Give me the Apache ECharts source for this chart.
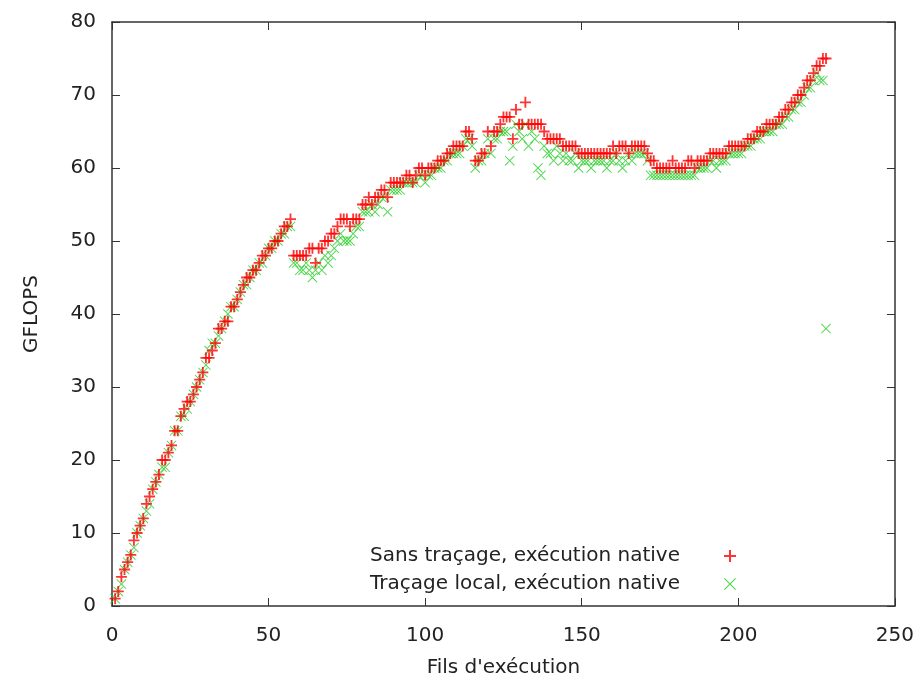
<!DOCTYPE html>
<html>
<head>
<meta charset="utf-8">
<script src="https://cdn.jsdelivr.net/npm/echarts@6/dist/echarts.min.js"></script>
<style>
  html, body { margin: 0; padding: 0; background: #fff; }
  #chart { width: 917px; height: 686px; }
</style>
</head>
<body>
<div id="chart"></div>
<script>
// GFLOPS for 1..228 threads (one value per thread count)
const sansTracage = [
  1, 2, 4, 5, 6, 7, 9, 10, 11, 12, 14, 15, 16, 17, 18, 20, 20, 21, 22, 24,
  24, 26, 27, 28, 28, 29, 30, 31, 32, 34, 34, 35, 36, 38, 38, 39, 39, 41, 41, 42,
  43, 44, 45, 45, 46, 46, 47, 48, 48, 49, 49, 50, 50, 51, 52, 52, 53, 48, 48, 48,
  48, 48, 49, 49, 47, 49, 49, 50, 50, 51, 51, 52, 53, 53, 53, 52, 53, 53, 53, 55,
  55, 56, 55, 56, 56, 57, 57, 56, 58, 58, 58, 58, 58, 59, 59, 58, 59, 60, 60, 59,
  60, 60, 60, 61, 61, 61, 62, 62, 63, 63, 63, 63, 65, 65, 64, 61, 61, 62, 62, 65,
  63, 65, 65, 66, 67, 67, 67, 64, 68, 66, 66, 69, 66, 66, 66, 66, 66, 65, 64, 64,
  64, 64, 64, 63, 63, 63, 63, 63, 62, 62, 62, 62, 62, 62, 62, 62, 62, 62, 62, 63,
  62, 63, 63, 63, 62, 63, 63, 63, 63, 63, 62, 61, 61, 60, 60, 60, 60, 60, 61, 60,
  60, 60, 60, 61, 61, 60, 61, 61, 61, 61, 62, 62, 62, 62, 62, 62, 63, 63, 63, 63,
  63, 63, 64, 64, 64, 65, 65, 65, 66, 66, 66, 66, 67, 67, 68, 68, 69, 69, 70, 70,
  71, 72, 72, 73, 74, 74, 75, 75
];
const tracageLocal = [
  1, 2, 3, 5, 6, 7, 8, 10, 11, 12, 13, 14, 16, 17, 18, 19, 19, 21, 22, 24,
  24, 26, 26, 27, 28, 29, 30, 31, 32, 33, 35, 36, 36, 37, 38, 39, 40, 41, 41, 42,
  43, 44, 44, 45, 46, 46, 47, 47, 48, 49, 49, 50, 50, 51, 51, 52, 52, 47, 47, 46,
  46, 47, 46, 45, 46, 47, 46, 48, 47, 48, 49, 50, 51, 50, 50, 50, 51, 52, 52, 54,
  54, 54, 55, 54, 55, 56, 56, 54, 57, 57, 57, 57, 58, 58, 58, 58, 58, 59, 59, 58,
  59, 59, 60, 60, 60, 61, 61, 62, 62, 62, 62, 63, 64, 64, 63, 60, 61, 61, 62, 64,
  62, 64, 64, 65, 65, 65, 61, 63, 66, 65, 64, 66, 63, 65, 64, 60, 59, 63, 62, 62,
  61, 63, 62, 61, 62, 61, 61, 62, 60, 61, 61, 61, 60, 61, 61, 61, 61, 60, 61, 61,
  62, 61, 60, 61, 62, 61, 62, 62, 62, 62, 61, 59, 59, 59, 59, 59, 59, 59, 59, 59,
  59, 59, 59, 59, 59, 59, 60, 60, 60, 60, 61, 61, 60, 61, 61, 61, 62, 62, 62, 62,
  62, 63, 63, 63, 64, 64, 64, 65, 65, 65, 65, 66, 66, 66, 67, 67, 68, 68, 69, 69,
  70, 71, 71, 72, 73, 72, 72, 38
];
const seriesNames = ['Sans traçage, exécution native', 'Traçage local, exécution native'];
const xTicks = [0, 50, 100, 150, 200, 250];
const yTicks = [0, 10, 20, 30, 40, 50, 60, 70, 80];

const plusPath = 'path://M5,0H7V5H12V7H7V12H5V7H0V5H5Z';
const crossPath = 'path://M0,0.8L0.8,0L6,5.2L11.2,0L12,0.8L6.8,6L12,11.2L11.2,12L6,6.8L0.8,12L0,11.2L5.2,6Z';

const toPoints = (vals) => vals.map((v, i) => [i + 1, v]);

const font = 'DejaVu Sans, sans-serif';
const textColor = '#222';
const lineColor = '#333';

const chart = echarts.init(document.getElementById('chart'), null, { renderer: 'canvas' });

const baseX = {
  type: 'value', min: xTicks[0], max: xTicks[xTicks.length - 1], interval: 50,
  axisLine: { show: true, onZero: false, lineStyle: { color: lineColor, width: 1.5 } },
  axisTick: { show: true, inside: true, length: 8, lineStyle: { color: lineColor, width: 1 } },
  splitLine: { show: false }
};
const baseY = {
  type: 'value', min: yTicks[0], max: yTicks[yTicks.length - 1], interval: 10,
  axisLine: { show: true, onZero: false, lineStyle: { color: lineColor, width: 1.5 } },
  axisTick: { show: true, inside: true, length: 8, lineStyle: { color: lineColor, width: 1 } },
  splitLine: { show: false }
};

chart.setOption({
  animation: false,
  backgroundColor: '#fff',
  textStyle: { fontFamily: font },
  grid: { left: 112, right: 21, top: 22, bottom: 80, containLabel: false },
  legend: {
    orient: 'vertical',
    align: 'right',
    right: 176,
    bottom: 87,
    itemGap: 8,
    itemWidth: 90,
    itemHeight: 12,
    symbolKeepAspect: true,
    textStyle: { fontSize: 20, color: textColor, fontFamily: font },
    data: [
      { name: seriesNames[0], icon: plusPath, itemStyle: { color: '#ff0000' } },
      { name: seriesNames[1], icon: crossPath, itemStyle: { color: '#22cc22' } }
    ]
  },
  xAxis: [
    Object.assign({}, baseX, {
      position: 'bottom',
      name: "Fils d'exécution",
      nameLocation: 'middle',
      nameGap: 52,
      nameTextStyle: { fontSize: 20, color: textColor },
      axisLabel: { fontSize: 20, color: textColor, margin: 20 }
    }),
    Object.assign({}, baseX, { position: 'top', axisLabel: { show: false } })
  ],
  yAxis: [
    Object.assign({}, baseY, {
      position: 'left',
      name: 'GFLOPS',
      nameLocation: 'middle',
      nameGap: 70,
      nameRotate: 90,
      nameTextStyle: { fontSize: 20, color: textColor },
      axisLabel: { fontSize: 20, color: textColor, margin: 16 }
    }),
    Object.assign({}, baseY, { position: 'right', axisLabel: { show: false } })
  ],
  series: [
    {
      name: seriesNames[0],
      type: 'scatter',
      xAxisIndex: 0, yAxisIndex: 0,
      symbol: plusPath,
      symbolSize: 11,
      itemStyle: { color: '#ff0000' },
      data: toPoints(sansTracage),
      z: 3
    },
    {
      name: seriesNames[1],
      type: 'scatter',
      xAxisIndex: 0, yAxisIndex: 0,
      symbol: crossPath,
      symbolSize: 10,
      itemStyle: { color: '#22cc22' },
      data: toPoints(tracageLocal),
      z: 2
    }
  ]
});
</script>
</body>
</html>
